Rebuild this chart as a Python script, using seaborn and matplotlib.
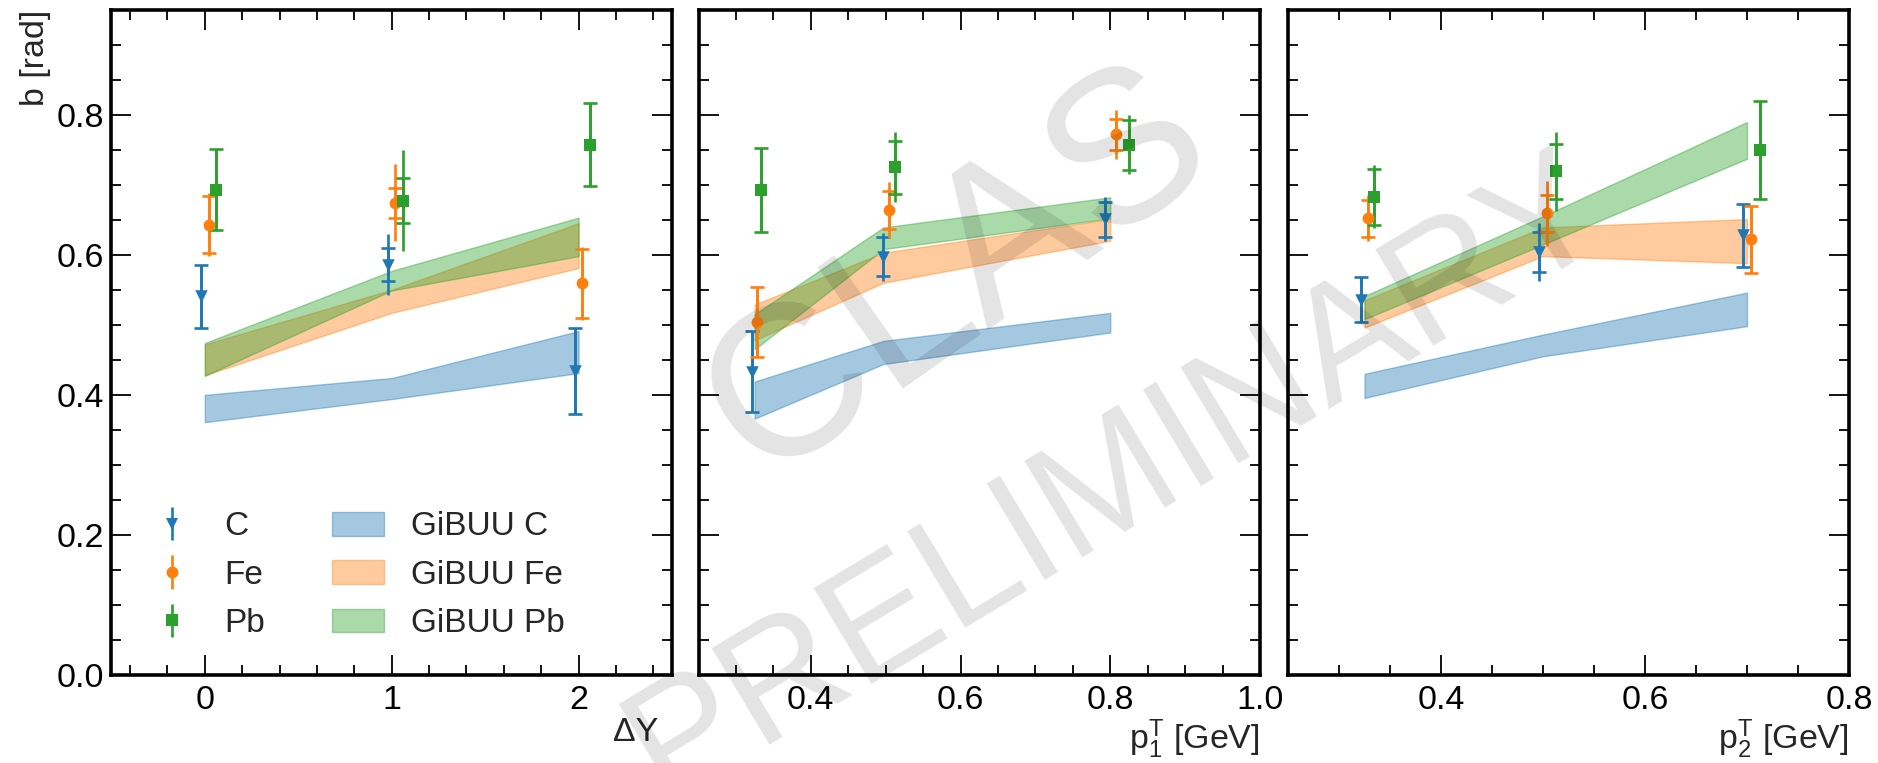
import matplotlib
matplotlib.use("Agg")
import matplotlib.pyplot as plt
import numpy as np
import pandas as pd
import seaborn as sns
from matplotlib.ticker import MultipleLocator
from matplotlib.legend_handler import HandlerTuple
from matplotlib.lines import Line2D
from matplotlib.patches import Patch

# ---------------- data ----------------
nuclei = ["C", "Fe", "Pb"]
panel_names = ["dY", "p1", "p2"]
x_labels = ["\u0394Y", r"p$_1^\mathrm{T}$ [GeV]", r"p$_2^\mathrm{T}$ [GeV]"]

# Panel 1 : Delta Y
dy_x_C = [-0.02, 0.98, 1.98]
dy_x_Fe = [0.02, 1.02, 2.02]
dy_x_Pb = [0.06, 1.06, 2.06]
dy_C = [0.541, 0.586, 0.434]
dy_Fe = [0.643, 0.674, 0.559]
dy_Pb = [0.693, 0.677, 0.757]
dy_C_cap = [0.045, 0.024, 0.062]
dy_Fe_cap = [0.041, 0.021, 0.049]
dy_Pb_cap = [0.058, 0.032, 0.059]
dy_C_tot = [0.045, 0.044, 0.062]
dy_Fe_tot = [0.045, 0.055, 0.052]
dy_Pb_tot = [0.058, 0.072, 0.060]
dy_band_x = [0, 1, 2]
dy_gibuu_C_lo = [0.361, 0.394, 0.431]
dy_gibuu_C_hi = [0.400, 0.424, 0.491]
dy_gibuu_Fe_lo = [0.428, 0.517, 0.581]
dy_gibuu_Fe_hi = [0.472, 0.550, 0.645]
dy_gibuu_Pb_lo = [0.427, 0.549, 0.598]
dy_gibuu_Pb_hi = [0.474, 0.577, 0.653]

# Panel 2 : p1T
p1_x_C = [0.322, 0.4965, 0.7925]
p1_x_Fe = [0.328, 0.504, 0.808]
p1_x_Pb = [0.334, 0.5125, 0.8247]
p1_C = [0.433, 0.597, 0.651]
p1_Fe = [0.504, 0.664, 0.772]
p1_Pb = [0.693, 0.725, 0.757]
p1_C_cap = [0.058, 0.028, 0.025]
p1_Fe_cap = [0.050, 0.027, 0.022]
p1_Pb_cap = [0.060, 0.038, 0.036]
p1_C_tot = [0.058, 0.034, 0.031]
p1_Fe_tot = [0.050, 0.040, 0.035]
p1_Pb_tot = [0.060, 0.050, 0.042]
p1_band_x = [0.325, 0.497, 0.800]
p1_gibuu_C_lo = [0.366, 0.444, 0.489]
p1_gibuu_C_hi = [0.419, 0.477, 0.517]
p1_gibuu_Fe_lo = [0.478, 0.560, 0.620]
p1_gibuu_Fe_hi = [0.529, 0.603, 0.651]
p1_gibuu_Pb_lo = [0.465, 0.608, 0.652]
p1_gibuu_Pb_hi = [0.515, 0.639, 0.682]

# Panel 3 : p2T
p2_x_C = [0.322, 0.4964, 0.6958]
p2_x_Fe = [0.328, 0.504, 0.704]
p2_x_Pb = [0.3346, 0.5124, 0.7125]
p2_C = [0.536, 0.604, 0.628]
p2_Fe = [0.652, 0.659, 0.622]
p2_Pb = [0.683, 0.719, 0.750]
p2_C_cap = [0.032, 0.028, 0.045]
p2_Fe_cap = [0.026, 0.026, 0.048]
p2_Pb_cap = [0.040, 0.039, 0.070]
p2_C_tot = [0.032, 0.041, 0.045]
p2_Fe_tot = [0.033, 0.047, 0.048]
p2_Pb_tot = [0.045, 0.056, 0.070]
p2_band_x = [0.325, 0.500, 0.700]
p2_gibuu_C_lo = [0.3955, 0.455, 0.498]
p2_gibuu_C_hi = [0.430, 0.486, 0.546]
p2_gibuu_Fe_lo = [0.496, 0.598, 0.588]
p2_gibuu_Fe_hi = [0.535, 0.639, 0.651]
p2_gibuu_Pb_lo = [0.508, 0.6146, 0.737]
p2_gibuu_Pb_hi = [0.541, 0.655, 0.7895]

# ---------------- assemble tables ----------------
src = {
    "dY": dict(x=[dy_x_C, dy_x_Fe, dy_x_Pb], y=[dy_C, dy_Fe, dy_Pb],
               cap=[dy_C_cap, dy_Fe_cap, dy_Pb_cap], tot=[dy_C_tot, dy_Fe_tot, dy_Pb_tot],
               bx=dy_band_x, lo=[dy_gibuu_C_lo, dy_gibuu_Fe_lo, dy_gibuu_Pb_lo],
               hi=[dy_gibuu_C_hi, dy_gibuu_Fe_hi, dy_gibuu_Pb_hi]),
    "p1": dict(x=[p1_x_C, p1_x_Fe, p1_x_Pb], y=[p1_C, p1_Fe, p1_Pb],
               cap=[p1_C_cap, p1_Fe_cap, p1_Pb_cap], tot=[p1_C_tot, p1_Fe_tot, p1_Pb_tot],
               bx=p1_band_x, lo=[p1_gibuu_C_lo, p1_gibuu_Fe_lo, p1_gibuu_Pb_lo],
               hi=[p1_gibuu_C_hi, p1_gibuu_Fe_hi, p1_gibuu_Pb_hi]),
    "p2": dict(x=[p2_x_C, p2_x_Fe, p2_x_Pb], y=[p2_C, p2_Fe, p2_Pb],
               cap=[p2_C_cap, p2_Fe_cap, p2_Pb_cap], tot=[p2_C_tot, p2_Fe_tot, p2_Pb_tot],
               bx=p2_band_x, lo=[p2_gibuu_C_lo, p2_gibuu_Fe_lo, p2_gibuu_Pb_lo],
               hi=[p2_gibuu_C_hi, p2_gibuu_Fe_hi, p2_gibuu_Pb_hi]),
}
rows = []
for p in panel_names:
    for i, n in enumerate(nuclei):
        for xv, yv, cv, tv in zip(src[p]["x"][i], src[p]["y"][i], src[p]["cap"][i], src[p]["tot"][i]):
            rows.append(dict(panel=p, nucleus=n, x=xv, y=yv, cap=cv, tot=tv))
points = pd.DataFrame(rows)

# ---------------- style ----------------
sns.set_style("ticks")
plt.rcParams["font.family"] = ["Liberation Sans", "DejaVu Sans"]
plt.rcParams["mathtext.fontset"] = "custom"
plt.rcParams["mathtext.rm"] = "Liberation Sans"
plt.rcParams["mathtext.it"] = "Liberation Sans:italic"
FS = 24.5
LFS = 24

colors = {"C": "#1f77b4", "Fe": "#ff7f0e", "Pb": "#2ca02c"}
markers = {"C": "v", "Fe": "o", "Pb": "s"}
msize = {"C": 9.0, "Fe": 8.5, "Pb": 8.3}

fig = plt.figure(figsize=(18.78, 7.63), dpi=100)
W, H = 1878.0, 763.0
bottom_px, top_px = 675.0, 9.6
lefts = [111.4, 698.5, 1288.0]
rights = [672.0, 1260.0, 1849.0]
axes = [fig.add_axes([l / W, 1 - bottom_px / H, (r - l) / W, (bottom_px - top_px) / H])
        for l, r in zip(lefts, rights)]

xlims = [(-0.5, 2.5), (0.25, 1.0), (0.25, 0.8)]
xmaj = [1.0, 0.2, 0.2]
xmin = [0.2, 0.05, 0.05]
xlabel_x = [0.975, 1.0, 1.0]

legend_eb = {}
for k, (ax, p) in enumerate(zip(axes, panel_names)):
    d = src[p]
    for i, n in enumerate(nuclei):
        ax.fill_between(d["bx"], d["lo"][i], d["hi"][i], color=colors[n], alpha=0.4,
                        lw=1.0, zorder=2)
    sub = points[points.panel == p]
    for n in nuclei:
        s = sub[sub.nucleus == n]
        ax.errorbar(s.x, s.y, yerr=s.cap, fmt="none", ecolor=colors[n], elinewidth=1.9,
                    capsize=4.8, capthick=1.9, zorder=3)
        eb = ax.errorbar(s.x, s.y, yerr=s.tot, fmt="none", ecolor=colors[n],
                         elinewidth=1.9, zorder=3)
        if k == 0:
            legend_eb[n] = eb
        sns.scatterplot(data=s, x="x", y="y", marker=markers[n], color=colors[n],
                        s=msize[n] ** 2, linewidth=0, legend=False, ax=ax, zorder=4)

    ax.set_xlim(*xlims[k])
    ax.set_ylim(0, 0.95)
    ax.xaxis.set_major_locator(MultipleLocator(xmaj[k]))
    ax.xaxis.set_minor_locator(MultipleLocator(xmin[k]))
    ax.yaxis.set_major_locator(MultipleLocator(0.2))
    ax.yaxis.set_minor_locator(MultipleLocator(0.05))
    ax.tick_params(which="both", direction="in", top=True, right=True, width=1.3,
                   colors="black", labelsize=FS)
    ax.tick_params(which="major", length=14.4)
    ax.tick_params(which="minor", length=7.2)
    ax.tick_params(axis="x", pad=7)
    ax.tick_params(axis="y", pad=5)
    for sp in ax.spines.values():
        sp.set_linewidth(2.6)
        sp.set_color("black")
    ax.set_xlabel(x_labels[k], loc="right", fontsize=FS, labelpad=1)
    ax.xaxis.label.set_x(xlabel_x[k])
    if k == 0:
        ax.set_ylabel("b [rad]", loc="top", fontsize=FS)
    else:
        ax.set_ylabel("")
        ax.tick_params(axis="y", labelleft=False)

# legend
handles = []
labels = []
for n in nuclei:
    mk = Line2D([], [], marker=markers[n], ls="none", color=colors[n], markersize=msize[n],
                markeredgewidth=0)
    handles.append((legend_eb[n], mk))
    labels.append(n)
for n in nuclei:
    handles.append(Patch(facecolor=colors[n], edgecolor=colors[n], alpha=0.4, lw=1.0))
    labels.append("GiBUU " + n)
axes[0].legend(handles, labels, ncol=2, loc="lower left", bbox_to_anchor=(0.038, 0.034),
               borderaxespad=0, frameon=False, fontsize=LFS, handlelength=1.56,
               handleheight=0.72, handletextpad=0.8, columnspacing=2.0, labelspacing=0.52,
               handler_map={tuple: HandlerTuple(ndivide=1)})

# watermark
fig.text(958 / W, 1 - 275 / H, "CLAS", rotation=35, ha="center", va="center",
         rotation_mode="anchor", fontsize=155, color="black", alpha=0.11, zorder=10)
fig.text(1117 / W, 1 - 480 / H, "PRELIMINARY", rotation=31, ha="center", va="center",
         rotation_mode="anchor", fontsize=118, color="black", alpha=0.11, zorder=10)

fig.savefig("out.png", dpi=100)
